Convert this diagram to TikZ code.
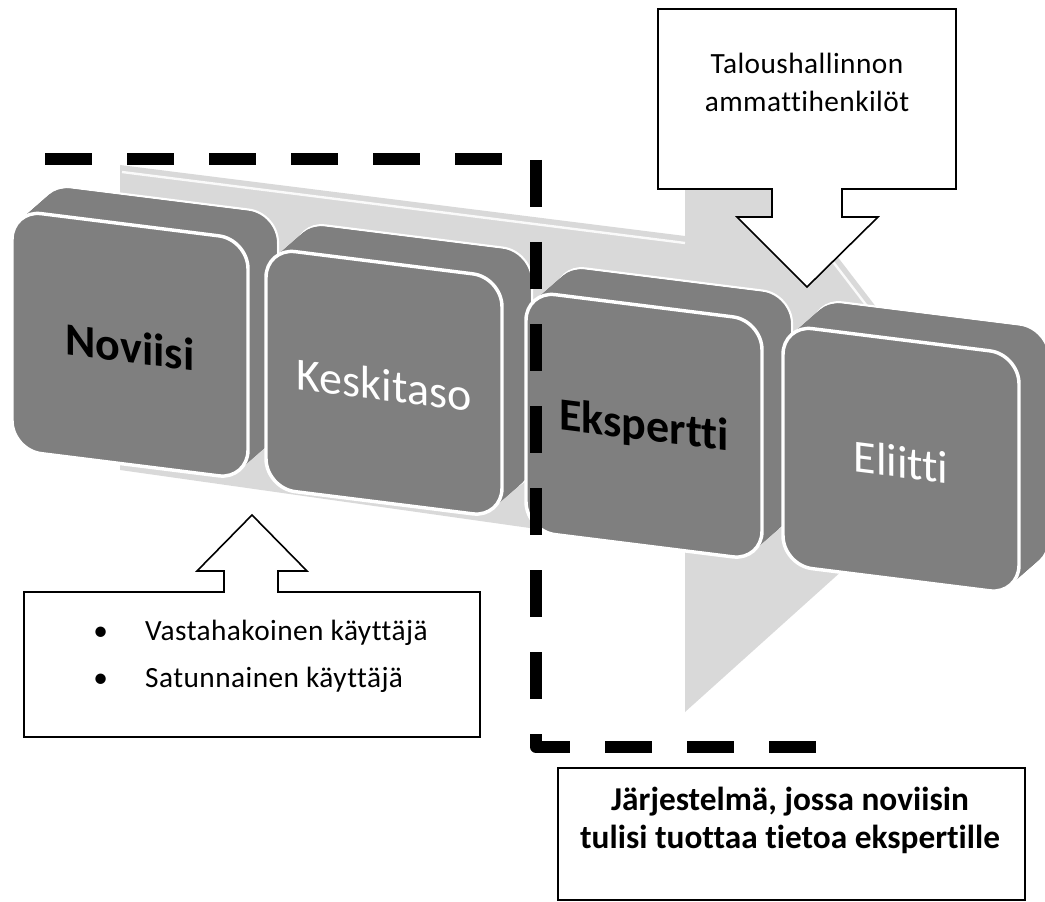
\documentclass[tikz,border=0pt]{standalone}
\usepackage{fontspec}
\setmainfont{Carlito}[Ligatures=NoCommon]
\newfontfamily\spacedfont{Carlito}[Ligatures=NoCommon,LetterSpace=1.5]
\begin{document}
\begin{tikzpicture}[x=0.75pt,y=0.75pt,yscale=-1,xscale=1,
  flowfill/.style={fill={rgb, 255:red, 217; green, 217; blue, 217 }},
  flowshine/.style={draw={rgb, 255:red, 250; green, 250; blue, 250 },line width=1.8pt},
  boxfill/.style={fill={rgb, 255:red, 127; green, 127; blue, 127 },rounded corners=22pt},
  backface/.style={boxfill,draw=white,line width=1.6pt},
  frontface/.style={boxfill,draw=white,line width=2.6pt},
  boxlabel/.style={inner sep=0.75pt,transform shape,yscale=-1},
  callout/.style={draw=black,fill=white,line width=1.2pt,line join=miter},
  calltext/.style={inner sep=0pt,align=center,font={\spacedfont\fontsize{22}{28.2}\selectfont}},
  borderline/.style={line width=9pt,dash pattern=on 35.25pt off 26.25pt,line join=round}]
\useasboundingbox (0,0) rectangle (1045,902);

%Shape: Process Arrow (background)
\path[flowfill] (120,165) -- (685,236) -- (685,58) -- (982,445) -- (685,712) -- (685,550) -- (120,470) -- cycle;
\draw[flowshine] (122,172) -- (685,243);
\draw[flowshine] (755,160) -- (955,421);

%Shape: 3D Boxes
\foreach \bx/\by/\bname/\btext/\bcol/\bser in {12/210/novice/Noviisi/black/\bfseries,
    266/248/middle/Keskitaso/white/\mdseries,
    526/291/expert/Ekspertti/black/\bfseries,
    783/325/elite/Eliitti/white/\mdseries}{
  \begin{scope}[shift={(\bx,\by)},yslant=0.125]
    \draw[backface] (30,-30) rectangle ++(236,240);
    \foreach \k in {1,...,19}
      \fill[boxfill] ({30-1.5*\k},{-30+1.5*\k}) rectangle ++(236,240);
    \draw[frontface] (0,0) rectangle (236,240);
    % Text Node
    \node[boxlabel,text=\bcol,font={\fontsize{34.5}{40}\selectfont\bser}] (\bname) at (118,122) {\btext};
  \end{scope}
}

%Shape: Down Arrow Callout
\draw[callout] (658,9) -- (956,9) -- (956,189) -- (842,189) -- (842,217) -- (878,217) -- (807,287) -- (737,217) -- (772,217) -- (772,189) -- (658,189) -- cycle;
% Text Node
\node[calltext,anchor=north] (profs) at (807,53) {Taloushallinnon\\ammattihenkilöt};

%Shape: Up Arrow Callout
\draw[callout] (24,592) -- (224,592) -- (224,571) -- (197,571) -- (252,515) -- (307,571) -- (278,571) -- (278,592) -- (480,592) -- (480,737) -- (24,737) -- cycle;
% Text Node
\node[calltext,align=left,anchor=north west,font={\spacedfont\fontsize{22}{35.2}\selectfont}] (users) at (93,620)
  {\makebox[39pt][l]{•}Vastahakoinen käyttäjä\\\makebox[39pt][l]{•}Satunnainen käyttäjä};

%Shape: Rectangle
\draw[callout] (558,768) rectangle (1025,900);
% Text Node
\node[calltext,anchor=north,font={\fontsize{25}{28.5}\selectfont\bfseries}] (system) at (790,787)
  {Järjestelmä, jossa noviisin\\tulisi tuottaa tietoa ekspertille};

%Straight Lines (dashed frame)
\draw[borderline] (45,159) -- (536,159) -- (536,747) -- (816,747);

\end{tikzpicture}
\end{document}
